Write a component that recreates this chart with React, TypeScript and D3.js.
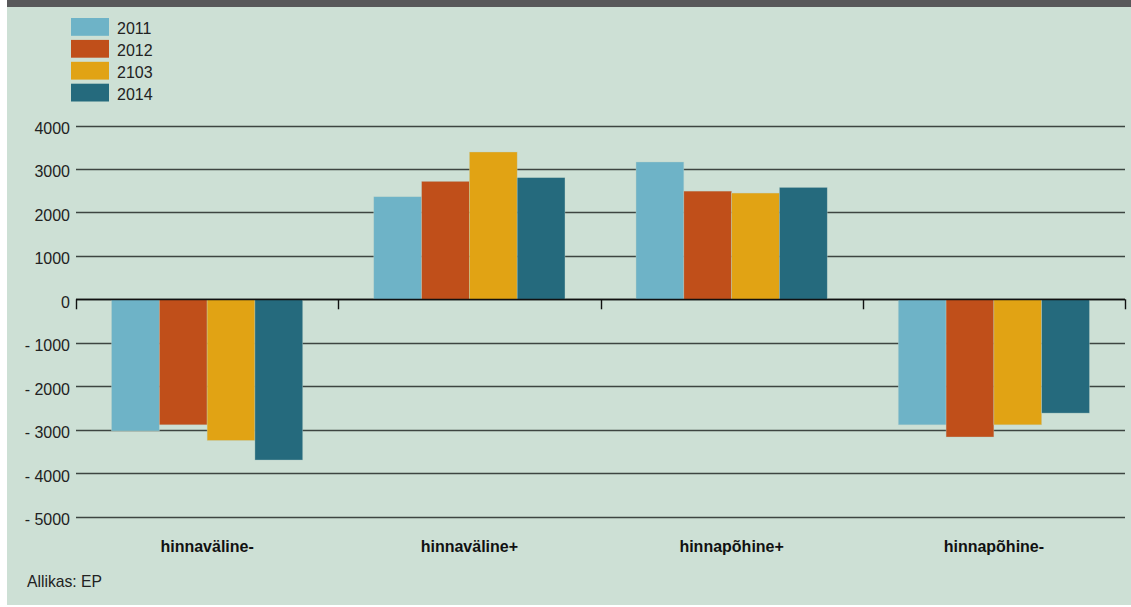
import React from "react";
import * as d3 from "d3";

const categories = ["hinnaväline-", "hinnaväline+", "hinnapõhine+", "hinnapõhine-"];
const seriesNames = ["2011", "2012", "2103", "2014"];
const seriesColors = ["#6eb3c7", "#c04f1a", "#e1a314", "#256a7d"];
const v2011 = [-3030, 2360, 3160, -2890];
const v2012 = [-2890, 2715, 2490, -3170];
const v2103 = [-3250, 3390, 2445, -2890];
const v2014 = [-3700, 2800, 2575, -2620];
const yTicks = [4000, 3000, 2000, 1000, 0, -1000, -2000, -3000, -4000, -5000];
const sourceText = "Allikas: EP";

const seriesValues = [v2011, v2012, v2103, v2014];

const W = 1131;
const H = 607;
const left = 76;
const right = 1125;
const font = "'Liberation Sans', Arial, Helvetica, sans-serif";

export default function App() {
  const y = d3.scaleLinear().domain([-5000, 4000]).range([516.5, 125.5]);
  const x0 = d3.scaleBand<string>().domain(categories).range([left, right]).paddingInner(0).paddingOuter(0);
  const x1 = d3
    .scaleBand<string>()
    .domain(seriesNames)
    .range([0, x0.bandwidth()])
    .paddingOuter(0.743)
    .paddingInner(0);

  const fmt = (t: number) => (t < 0 ? "- " + Math.abs(t) : String(t));

  return (
    <div style={{ position: "absolute", left: 0, top: 0, width: W, height: H }}>
      <svg width={W} height={H} style={{ display: "block" }}>
        <rect x={0} y={0} width={W} height={H} fill="#ffffff" />
        <rect x={7} y={0} width={W - 7} height={605} fill="#cde0d5" />
        <rect x={7} y={0} width={W - 7} height={7} fill="#58585a" />

        {/* legend */}
        {seriesNames.map((s, i) => (
          <g key={s} transform={`translate(71, ${18 + i * 21.9})`}>
            <rect x={0} y={0} width={38} height={17.8} fill={seriesColors[i]} />
            <text x={46} y={16} fontFamily={font} fontSize={16} fill="#222">
              {s}
            </text>
          </g>
        ))}

        {/* gridlines */}
        {yTicks.map((t) => (
          <g key={t}>
            <line
              x1={left}
              x2={right}
              y1={Math.round(y(t)) + 0.5}
              y2={Math.round(y(t)) + 0.5}
              stroke={t === 0 ? "#111" : "#3d4541"}
              strokeWidth={t === 0 ? 1.4 : 1.3}
            />
            <text
              x={70}
              y={y(t) + 8.5}
              textAnchor="end"
              fontFamily={font}
              fontSize={16}
              fill="#222"
            >
              {fmt(t)}
            </text>
          </g>
        ))}

        {/* bars */}
        {categories.map((c, ci) => (
          <g key={c} transform={`translate(${x0(c)},0)`}>
            {seriesNames.map((s, si) => {
              const v = seriesValues[si][ci];
              const y0 = y(0);
              const yv = y(v);
              return (
                <rect
                  key={s}
                  x={x1(s)}
                  y={Math.min(y0, yv)}
                  width={x1.bandwidth()}
                  height={Math.abs(yv - y0)}
                  fill={seriesColors[si]}
                  stroke="#bcd3c9"
                  strokeOpacity={0.6}
                  strokeWidth={0.6}
                />
              );
            })}
          </g>
        ))}

        {/* zero axis with ticks */}
        <line x1={left} x2={right} y1={Math.round(y(0)) + 0.5} y2={Math.round(y(0)) + 0.5} stroke="#111" strokeWidth={1.4} />
        {[...categories.map((c) => x0(c) as number), right].map((tx, i) => (
          <line
            key={i}
            x1={Math.round(tx) + 0.5}
            x2={Math.round(tx) + 0.5}
            y1={y(0)}
            y2={y(0) + 10}
            stroke="#111"
            strokeWidth={1.4}
          />
        ))}

        {/* category labels */}
        {categories.map((c) => (
          <text
            key={c}
            x={(x0(c) as number) + x0.bandwidth() / 2}
            y={552}
            textAnchor="middle"
            fontFamily={font}
            fontSize={16}
            fontWeight="bold"
            fill="#111"
          >
            {c}
          </text>
        ))}

        <text x={27} y={587} fontFamily={font} fontSize={15.7} fill="#222">
          {sourceText}
        </text>
      </svg>
    </div>
  );
}
